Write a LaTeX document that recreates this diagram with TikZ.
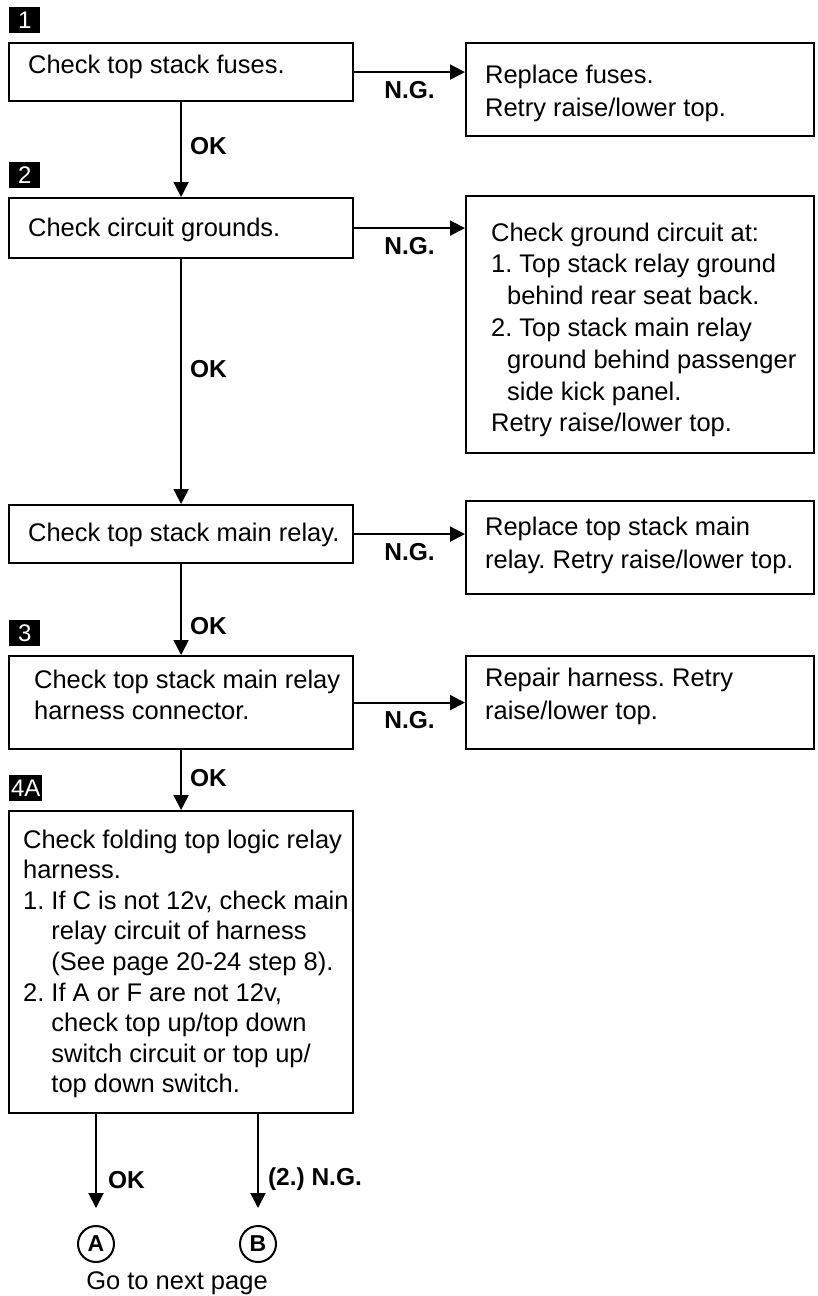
\documentclass[tikz,border=0pt]{standalone}
\usepackage{fontspec}
\setmainfont{Liberation Sans}
\usetikzlibrary{arrows.meta,calc}
\frenchspacing
\newcommand\boxtxt[2]{\makebox[#1][l]{\begin{tabular}[t]{@{}l@{}}#2\end{tabular}}}
\begin{document}
\frenchspacing
\begin{tikzpicture}[x=1pt,y=-1pt,
  box/.style={draw, line width=2.2pt, inner ysep=0pt, anchor=north west, font=\fontsize{25.5}{32.5}\selectfont},
  arr/.style={line width=2pt, -{Triangle[length=15pt,width=15pt]}},
  lbl/.style={font=\bfseries\fontsize{24.5}{28}\selectfont, inner sep=0pt},
  badge/.style={fill=black, text=white, anchor=south west, inner sep=0pt, minimum height=26pt, font=\fontsize{24}{28}\selectfont},
  circ/.style={circle, draw, line width=2pt, minimum size=36pt, inner sep=0pt, font=\bfseries\fontsize{23}{26}\selectfont},
  plain/.style={font=\fontsize{25.5}{32}\selectfont, inner sep=0pt}
]
\fill[white] (0,0) rectangle (818,1296);
\useasboundingbox (0,0) rectangle (818,1296);

% step badges
\node[badge, minimum width=31pt] (n1) at (9,33) {1};
\node[badge, minimum width=31pt] (n2) at (9,188) {2};
\node[badge, minimum width=31pt] (n3) at (9,646) {3};
\node[badge, minimum width=33pt] (n4) at (9,801) {4A};

% left column
\node[box, inner xsep=19pt, text height=30pt, text depth=28pt] (b1) at (8,42)
  {\boxtxt{306pt}{Check top stack fuses.}};
\node[box, inner xsep=19pt, text height=38pt, text depth=22pt] (b2) at (8,197)
  {\boxtxt{306pt}{Check circuit grounds.}};
\node[box, inner xsep=19pt, text height=36pt, text depth=22pt] (b3) at (8,504)
  {\boxtxt{306pt}{Check top stack main relay.}};
\node[box, inner xsep=25pt, text height=32pt, text depth=61pt, font=\fontsize{25.5}{31}\selectfont] (b4) at (8,655)
  {\boxtxt{294pt}{Check top stack main relay\\harness connector.}};
\node[box, inner xsep=14pt, text height=37pt, text depth=265pt, font=\fontsize{25.5}{30.6}\selectfont] (b5) at (8,810)
  {\boxtxt{316pt}{Check folding top logic relay\\
   harness.\\
   1. If C is not 12v, check main\\
   \phantom{1.}\ relay circuit of harness\\
   \phantom{1.}\ (See page 20-24 step 8).\\
   2. If A or F are not 12v,\\
   \phantom{2.}\ check top up/top down\\
   \phantom{2.}\ switch circuit or top up/\\
   \phantom{2.}\ top down switch.}};

% right column
\node[box, inner xsep=19pt, text height=40pt, text depth=53pt, font=\fontsize{25.5}{33}\selectfont] (r1) at (465,42)
  {\boxtxt{310pt}{Replace fuses.\\Retry raise/lower top.}};
\node[box, inner xsep=25pt, text height=45pt, text depth=212pt, font=\fontsize{25.5}{31.8}\selectfont] (r2) at (465,195)
  {\boxtxt{298pt}{Check ground circuit at:\\
   1. Top stack relay ground\\
   \hspace*{16pt}behind rear seat back.\\
   2. Top stack main relay\\
   \hspace*{16pt}ground behind passenger\\
   \hspace*{16pt}side kick panel.\\
   Retry raise/lower top.}};
\node[box, inner xsep=19pt, text height=34pt, text depth=59pt, font=\fontsize{25.5}{33}\selectfont] (r3) at (465,500)
  {\boxtxt{310pt}{Replace top stack main\\relay. Retry raise/lower top.}};
\node[box, inner xsep=19pt, text height=30pt, text depth=63pt, font=\fontsize{25.5}{33}\selectfont] (r4) at (465,655)
  {\boxtxt{310pt}{Repair harness. Retry\\raise/lower top.}};

% OK connectors
\draw[arr] (b1.south) -- node[lbl, pos=.46, right=8pt]{OK} (b2.north);
\draw[arr] (b2.south) -- node[lbl, pos=.45, right=8pt]{OK} (b3.north);
\draw[arr] (b3.south) -- node[lbl, pos=.68, right=8pt]{OK} (b4.north);
\draw[arr] (b4.south) -- node[lbl, pos=.47, right=8pt]{OK} (b5.north);

% N.G. connectors
\draw[arr] (b1.east) -- node[lbl, below=8pt]{N.G.} (b1.east -| r1.west);
\draw[arr] (b2.east) -- node[lbl, below=8pt]{N.G.} (b2.east -| r2.west);
\draw[arr] (b3.east) -- node[lbl, below=8pt]{N.G.} (b3.east -| r3.west);
\draw[arr] (b4.east) -- node[lbl, below=8pt]{N.G.} (b4.east -| r4.west);

% off-page connectors
\node[circ] (cA) at (96,1244) {A};
\node[circ] (cB) at (258,1244) {B};
\draw[arr, shorten >=17pt] (b5.south -| cA.north) -- node[lbl, pos=.59, right=11pt]{OK} (cA.north);
\draw[arr, shorten >=17pt] (b5.south -| cB.north) -- node[lbl, pos=.59, right=9pt]{(2.) N.G.} (cB.north);
\node[plain, anchor=base] (go) at (177,1289) {Go to next page};
\end{tikzpicture}
\end{document}
